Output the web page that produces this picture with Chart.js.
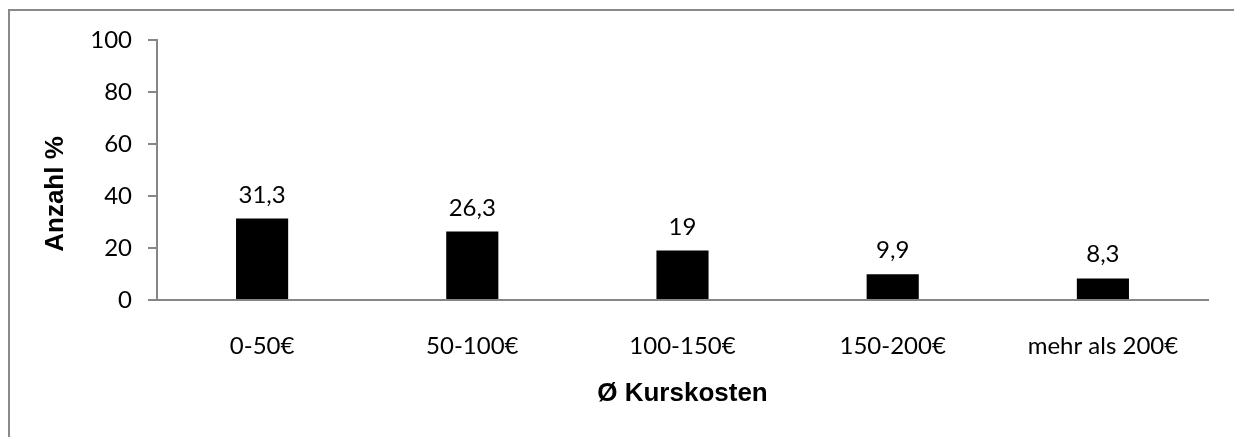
<!DOCTYPE html>
<html>
<head>
<meta charset="utf-8">
<script src="https://cdn.jsdelivr.net/npm/chart.js@4"></script>
<style>
  html, body { margin: 0; padding: 0; background: #fff; overflow: hidden; }
  #frame {
    position: absolute; left: 8px; top: 9px; width: 1300px; height: 500px;
    border-top: 2px solid #898989; border-left: 2px solid #898989;
  }
  #chart { position: absolute; left: 0; top: 0; }
</style>
</head>
<body>
<div id="frame"></div>
<canvas id="chart" width="1234" height="437"></canvas>
<script>
const categories = ['0-50€', '50-100€', '100-150€', '150-200€', 'mehr als 200€'];
const values = [31.3, 26.3, 19, 9.9, 8.3];
const yTicks = [0, 20, 40, 60, 80, 100];
const xTitle = 'Ø Kurskosten';
const yTitle = 'Anzahl %';

const axisGray = '#868686';
const tickFont = { family: 'Lato', size: 24 };

// Beschriftung über den Balken (Komma als Dezimaltrenner)
const barLabels = {
  id: 'barLabels',
  afterDatasetsDraw(chart) {
    const ctx = chart.ctx;
    const meta = chart.getDatasetMeta(0);
    ctx.save();
    ctx.fillStyle = '#000';
    ctx.font = '24px Lato';
    ctx.textAlign = 'center';
    ctx.textBaseline = 'alphabetic';
    meta.data.forEach((bar, i) => {
      const txt = String(values[i]).replace('.', ',');
      ctx.fillText(txt, bar.x, bar.y - 16);
    });
    ctx.restore();
  }
};

// y-Achsentitel (im Original nicht mittig zur Achse)
const yTitlePlugin = {
  id: 'yTitlePlugin',
  afterDraw(chart) {
    const ctx = chart.ctx;
    ctx.save();
    ctx.translate(63, 194);
    ctx.rotate(-Math.PI / 2);
    ctx.fillStyle = '#000';
    ctx.font = 'bold 26px "Liberation Sans", Arial, sans-serif';
    ctx.textAlign = 'center';
    ctx.textBaseline = 'alphabetic';
    ctx.fillText(yTitle, 0, 0);
    ctx.restore();
  }
};

new Chart(document.getElementById('chart'), {
  type: 'bar',
  data: {
    labels: categories,
    datasets: [{
      data: values,
      backgroundColor: '#000',
      borderWidth: 0,
      barPercentage: 0.248,
      categoryPercentage: 1
    }]
  },
  options: {
    responsive: false,
    devicePixelRatio: 1,
    animation: false,
    layout: { padding: { left: 0, top: 40, right: 26, bottom: 0 } },
    plugins: {
      legend: { display: false },
      tooltip: { enabled: false }
    },
    scales: {
      x: {
        grid: { display: false },
        border: { color: axisGray, width: 2 },
        ticks: { color: '#000', font: tickFont, padding: 24, maxRotation: 0 },
        title: {
          display: true,
          text: xTitle,
          color: '#000',
          font: { family: '"Liberation Sans", Arial, sans-serif', size: 26, weight: 'bold', lineHeight: 1.2 },
          padding: { top: 0, bottom: 28 }
        },
        afterFit(scale) { scale.height = 137; }
      },
      y: {
        min: 0,
        max: 100,
        afterBuildTicks(scale) { scale.ticks = yTicks.map(v => ({ value: v })); },
        grid: { drawOnChartArea: false, tickLength: 9, color: axisGray, lineWidth: 2 },
        border: { color: axisGray, width: 2 },
        ticks: { color: '#000', font: tickFont, padding: 16 },
        afterFit(scale) { scale.width = 157; }
      }
    }
  },
  plugins: [barLabels, yTitlePlugin]
});
</script>
</body>
</html>
